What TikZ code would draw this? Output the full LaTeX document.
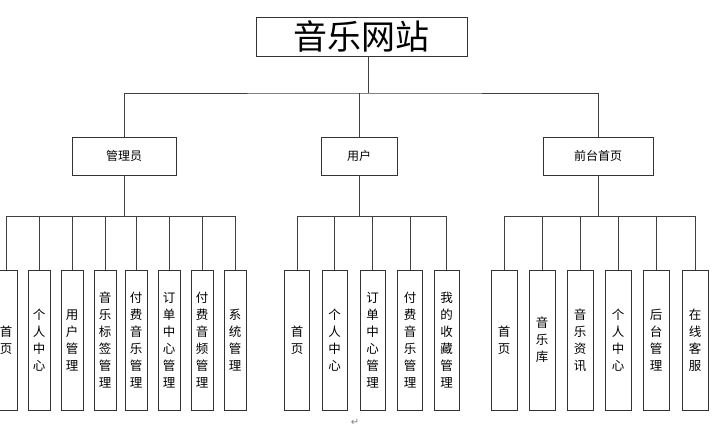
\documentclass[tikz,border=0pt]{standalone}
\usepackage{fontspec}
\setmainfont{Noto Sans CJK SC}
\newfontfamily\dejavu{DejaVu Sans}
\begin{document}
\begin{tikzpicture}[x=1pt,y=-1pt,
  box/.style={draw=black!80,line width=0.9pt,fill=white,inner sep=0pt},
  leaf/.style={box,minimum height=140pt,align=center,font=\fontsize{12.5}{17}\selectfont},
  con/.style={draw=black!75,line width=0.9pt}]
\useasboundingbox (0,0) rectangle (722,429);
\node[box,minimum width=211pt,minimum height=39pt,font=\fontsize{34}{36}\selectfont] (root) at (361.5,36.5) {音乐网站};
\node[box,minimum width=104pt,minimum height=38pt,font=\fontsize{12}{14}\selectfont] (a) at (124,156) {管理员};
\node[box,minimum width=76pt,minimum height=38pt,font=\fontsize{12}{14}\selectfont] (b) at (359,156) {用户};
\node[box,minimum width=110pt,minimum height=38pt,font=\fontsize{12}{14}\selectfont] (c) at (598,156) {前台首页};
\coordinate (r1) at (368,93);
\draw[con] (root.south -| r1) -- (r1);
\draw[con] (a.north) |- (r1) -| (c.north);
\draw[con] (b.north) -- (b.north |- r1);
\foreach \n/\x/\t in {a1/6/首\\页, a2/39/个\\人\\中\\心, a3/72/用\\户\\管\\理, a4/105/音\\乐\\标\\签\\管\\理, a5/136/付\\费\\音\\乐\\管\\理, a6/169/订\\单\\中\\心\\管\\理, a7/202/付\\费\\音\\频\\管\\理, a8/235/系\\统\\管\\理}
  {\node[leaf,minimum width=22pt] (\n) at (\x,340) {\t};}
\foreach \n/\x/\t in {b1/297/首\\页, b2/334.5/个\\人\\中\\心, b3/372.5/订\\单\\中\\心\\管\\理, b4/410/付\\费\\音\\乐\\管\\理, b5/446.5/我\\的\\收\\藏\\管\\理}
  {\node[leaf,minimum width=25pt] (\n) at (\x,340) {\t};}
\foreach \n/\x/\t in {c1/504/首\\页, c2/542/音\\乐\\库, c3/580/音\\乐\\资\\讯, c4/618/个\\人\\中\\心, c5/656/后\\台\\管\\理, c6/695/在\\线\\客\\服}
  {\node[leaf,minimum width=26pt] (\n) at (\x,340) {\t};}
\coordinate (ya) at (0,216);
\draw[con] (a.south) -- (a.south |- ya);
\draw[con] (a1.north) |- (a8.north |- ya) -- (a8.north);
\foreach \n in {a2,a3,a4,a5,a6,a7} \draw[con] (\n.north) -- (\n.north |- ya);
\draw[con] (b.south) -- (b.south |- ya);
\draw[con] (b1.north) |- (b5.north |- ya) -- (b5.north);
\foreach \n in {b2,b3,b4} \draw[con] (\n.north) -- (\n.north |- ya);
\draw[con] (c.south) -- (c.south |- ya);
\draw[con] (c1.north) |- (c6.north |- ya) -- (c6.north);
\foreach \n in {c2,c3,c4,c5} \draw[con] (\n.north) -- (\n.north |- ya);
\node[text=black!50,font=\dejavu\fontsize{10}{10}\selectfont] (ret) at (355,422) {↵};
\end{tikzpicture}
\end{document}
